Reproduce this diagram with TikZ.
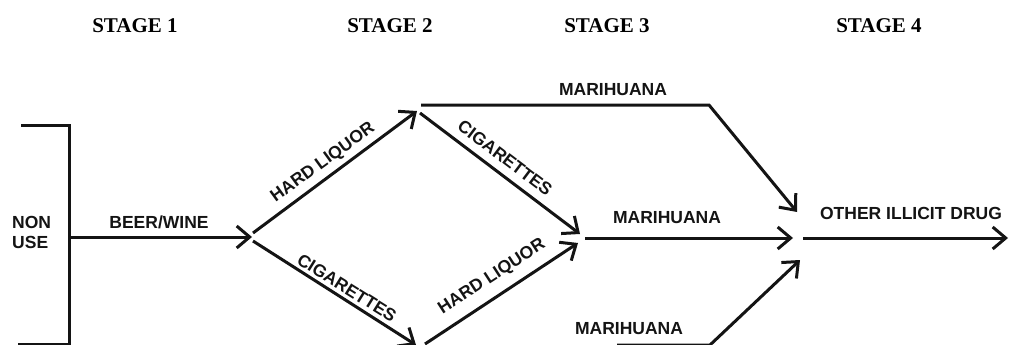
\documentclass[tikz,border=0pt]{standalone}
\usepackage{fontspec}
\setmainfont{Liberation Serif}
\newfontfamily\stagefont{Liberation Serif}
\newfontfamily\labfont{Liberation Sans}
\usetikzlibrary{arrows.meta}
\begin{document}
\begin{tikzpicture}[x=1pt,y=-1pt,
  line/.style={line width=3pt,black!92},
  arr/.style={line, -{Straight Barb[length=13pt,width=22pt,line width=3pt]}},
  stagelbl/.style={font=\stagefont\bfseries\fontsize{21}{21}\selectfont, inner sep=0pt},
  lbl/.style={font=\labfont\bfseries\fontsize{17.5}{20}\selectfont, inner sep=0pt, text=black!92}]
\useasboundingbox (0,0) rectangle (1009,345);
% stage headings
\node[stagelbl] (s1) at (135,26) {STAGE 1};
\node[stagelbl] (s2) at (390,26) {STAGE 2};
\node[stagelbl] (s3) at (607,26) {STAGE 3};
\node[stagelbl] (s4) at (879,26) {STAGE 4};
% bracket
\coordinate (bt0) at (21,125);
\coordinate (bt1) at (69,125);
\coordinate (bb1) at (69,344);
\coordinate (bb0) at (18,344);
\coordinate (bm) at (69,237);
\draw[line] (bt0) -- (bt1) -- (bb1) -- (bb0);
\node[lbl, align=left, anchor=west] (nonuse) at (12,232) {NON\\USE};
% junction points
\coordinate (A) at (252,237);
\coordinate (Aup) at (253,233);
\coordinate (Adn) at (253,241);
\coordinate (B) at (417,111);
\coordinate (Bh) at (421,105);
\coordinate (Bd) at (420,113);
\coordinate (C) at (416,345);
\coordinate (Cu) at (425,344);
\coordinate (D1) at (580,234);
\coordinate (D2) at (578,243);
\coordinate (Dm) at (585,238);
\coordinate (T1) at (709,105);
\coordinate (E1) at (797,212);
\coordinate (E2) at (793,238);
\coordinate (E3) at (800,260);
\coordinate (Em) at (803,238);
\coordinate (F) at (1008,238);
\coordinate (L0) at (617,345);
\coordinate (L1) at (710,345);
% connectors
\draw[arr] (bm) -- (A);
\draw[arr] (Aup) -- (B);
\draw[arr] (Adn) -- (C);
\draw[arr] (Bd) -- (D1);
\draw[arr] (Cu) -- (D2);
\draw[arr] (Bh) -- (T1) -- (E1);
\draw[arr] (Dm) -- (E2);
\draw[arr] (L0) -- (L1) -- (E3);
\draw[arr] (Em) -- (F);
% labels
\node[lbl] (lbw) at (159,222) {BEER/WINE};
\node[lbl, rotate=36] (lhl1) at (323,163) {HARD LIQUOR};
\node[lbl, rotate=-37] (lcg1) at (505,158) {CIGARETTES};
\node[lbl, rotate=-32] (lcg2) at (347,288) {CIGARETTES};
\node[lbl, rotate=33] (lhl2) at (492,277) {HARD LIQUOR};
\node[lbl] (lm1) at (613,90) {MARIHUANA};
\node[lbl] (lm2) at (667,218) {MARIHUANA};
\node[lbl] (lm3) at (629,329) {MARIHUANA};
\node[lbl] (lod) at (911,213) {OTHER ILLICIT DRUG};
\end{tikzpicture}
\end{document}
